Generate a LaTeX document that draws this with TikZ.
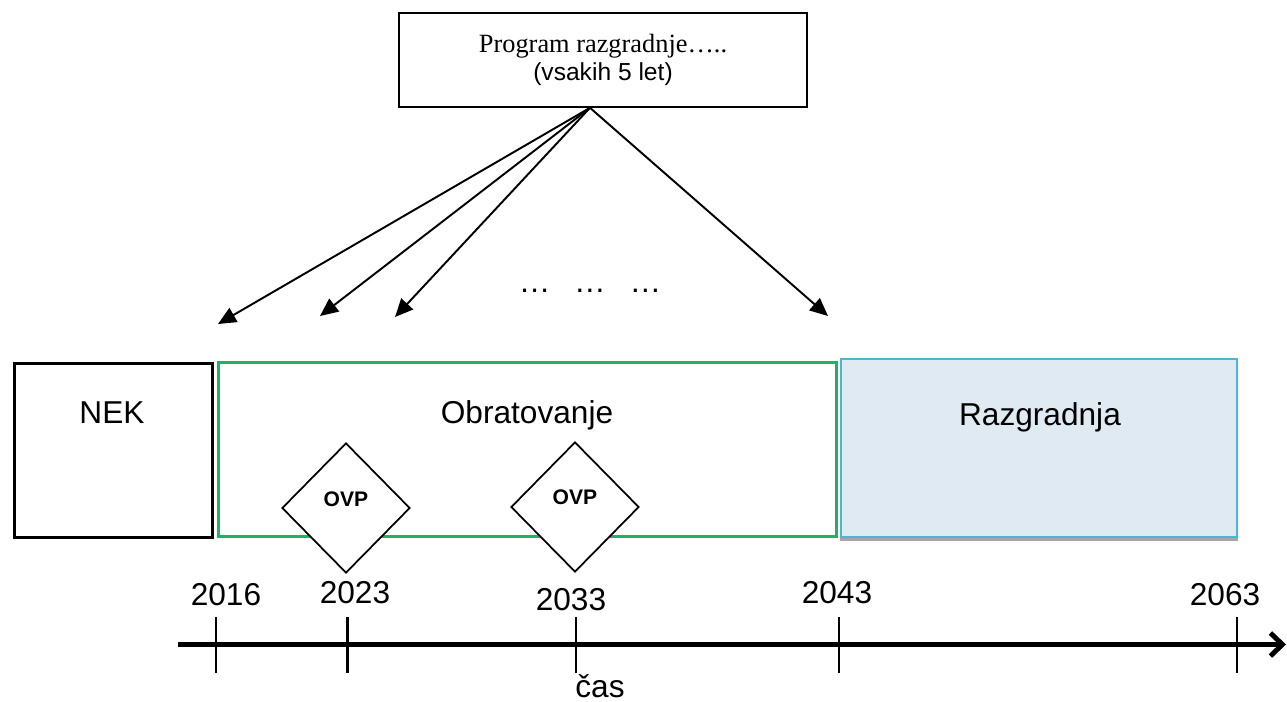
\documentclass[tikz,border=0pt]{standalone}
\usepackage{fontspec}
\setmainfont{Liberation Sans}
\newfontfamily\seriffont{Liberation Serif}
\usetikzlibrary{arrows.meta,shapes.geometric}

\definecolor{opgreen}{RGB}{29,178,104}
\definecolor{razblue}{RGB}{75,182,206}
\definecolor{razfill}{RGB}{224,234,243}

\begin{document}
\begin{tikzpicture}[
    font=\fontsize{18}{21}\selectfont,
    phase/.style={rectangle,inner sep=0pt,minimum height=3.48cm},
    tag/.style={anchor=base},
    check/.style={
        diamond,draw=black,fill=white,line width=1pt,
        inner sep=0pt,minimum width=2.56cm,minimum height=2.6cm
    },
    fan/.style={-{Triangle[length=3.6mm,width=3.2mm]},line width=1.1pt},
    axis/.style={-{Straight Barb[length=2.4mm,width=4.6mm]},line width=2.8pt}
]
\path[use as bounding box] (0,0) rectangle (25.74,-14.02);

\node[draw=black,line width=0.9pt,minimum width=8.16cm,minimum height=1.88cm,
    align=center,font=\fontsize{15}{16}\selectfont] (prog) at (12.06,-1.2)
    {{\seriffont Program razgradnje…..}\\
     {\fontsize{14}{16}\selectfont(vsakih 5 let)}};

% one programme every five years, fanned out over the time line
\coordinate (fan) at ([xshift=-0.26cm]prog.south);
\coordinate (p1) at (4.36,-6.48);
\coordinate (p2) at (6.40,-6.32);
\coordinate (p3) at (7.90,-6.34);
\coordinate (p4) at (16.56,-6.32);
\foreach \p in {p1,p2,p3,p4}
    \draw[fan] (fan) -- (\p);

\node[tag] (dots) at (11.8,-5.84) {…\hspace{0.75em}…\hspace{0.75em}…};

\node[phase,draw=black,line width=1.7pt,minimum width=3.96cm] (nek) at (2.27,-9.01) {};
\node[phase,draw=opgreen,line width=1.7pt,minimum width=12.36cm] (obr) at (10.55,-8.99) {};
\node[phase,draw=razblue,fill=razfill,line width=1.2pt,minimum width=7.92cm,
    minimum height=3.56cm] (razg) at (20.78,-8.96) {};
\fill[black!35] (razg.south west) rectangle ([yshift=-0.06cm]razg.south east);

\node[tag] (neklabel) at (2.24,-8.46) {NEK};
\node[tag] (obrlabel) at (10.54,-8.46) {Obratovanje};
\node[tag] (razglabel) at (20.8,-8.5) {Razgradnja};

\node[check] (ovp1) at (6.92,-10.16) {};
\node[check] (ovp2) at (11.5,-10.14) {};
\node[tag,font=\fontsize{12}{14}\selectfont\bfseries] (ovp1label) at (6.92,-10.12) {OVP};
\node[tag,font=\fontsize{12}{14}\selectfont\bfseries] (ovp2label) at (11.5,-10.08) {OVP};

\coordinate (t0) at (3.56,-12.89);
\coordinate (tend) at (25.72,-12.89);
\draw[axis] (t0) -- (tend);

\foreach \x/\w/\lx/\ly/\yr in {4.32/1.1/4.52/-12.1/2016, 6.95/1.7/7.1/-12.06/2023,
    11.52/1.1/11.42/-12.2/2033, 16.78/1.1/16.74/-12.06/2043, 24.74/1.1/24.5/-12.1/2063}{
    \draw[line width=\w pt] (\x,-12.34) -- (\x,-13.46);
    \node[tag] (y\yr) at (\lx,\ly) {\yr};
}

\node[tag] (cas) at (12.0,-13.94) {čas};
\end{tikzpicture}
\end{document}
